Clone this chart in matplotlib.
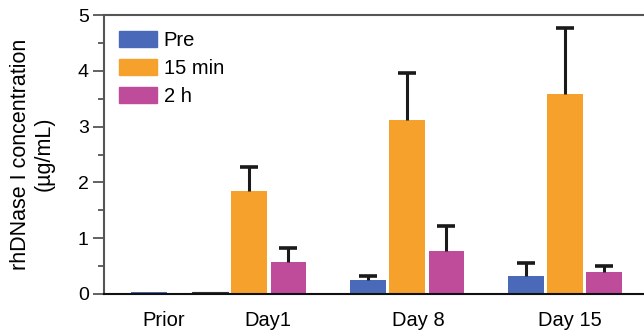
import matplotlib
matplotlib.use("Agg")
import matplotlib.pyplot as plt
from matplotlib.patches import Patch
from matplotlib.ticker import MultipleLocator

plt.rcParams['font.family'] = ['Liberation Sans', 'DejaVu Sans']

series = ["Pre", "15 min", "2 h"]
colors = ["#4A69B8", "#F7A12D", "#BE4C9B"]

# Prior sample (Pre only)
prior_value = 0.03
# Day groups
days = ["Day1", "Day 8", "Day 15"]
pre_vals = [0.03, 0.25, 0.32]
pre_err = [0.0, 0.07, 0.24]
min15_vals = [1.84, 3.12, 3.59]
min15_err = [0.44, 0.84, 1.18]
h2_vals = [0.57, 0.77, 0.39]
h2_err = [0.25, 0.44, 0.11]

tick_labels = ["Prior", "Day1", "Day 8", "Day 15"]

fig = plt.figure(figsize=(6.44, 3.33), dpi=100)
ax = fig.add_axes([104/644, 1-294/333, 1-104/644, (294-15)/333])

group_x = [1, 2, 3]
off = 0.247
w = 0.222
ecol = "#1a1a1a"

ax.bar(0.367, prior_value, width=w, color=colors[0])
for i, gx in enumerate(group_x):
    vals = [pre_vals[i], min15_vals[i], h2_vals[i]]
    errs = [pre_err[i], min15_err[i], h2_err[i]]
    for j in range(3):
        x = gx + (j - 1) * off
        if errs[j] > 0:
            ax.bar(x, vals[j], width=w, color=colors[j], zorder=2)
            ax.vlines(x, vals[j], vals[j] + errs[j], color=ecol, lw=2.2, zorder=3)
            ax.plot([x], [vals[j] + errs[j]], marker="_", markersize=13,
                    mew=2.6, color=ecol, zorder=3)
        else:
            ax.bar(x, vals[j], width=w, color=colors[j],
                   edgecolor="#333333", linewidth=0.8, zorder=2)

ax.set_xlim(0.082, 3.5)
ax.set_ylim(0, 5)
ax.set_xticks([0.462, 1.12, 2.07, 3.03])
ax.set_xticklabels(tick_labels, fontsize=14.5)
ax.tick_params(axis='x', length=0, pad=12)
ax.yaxis.set_major_locator(MultipleLocator(1))
ax.yaxis.set_minor_locator(MultipleLocator(0.5))
ax.tick_params(axis='y', which='major', length=8, width=1.3, color="#555555",
               labelsize=14, pad=3)
ax.tick_params(axis='y', which='minor', length=4, width=1.3, color="#555555")

ax.spines['right'].set_visible(False)
ax.spines['left'].set_color("#555555")
ax.spines['left'].set_linewidth(1.5)
ax.spines['top'].set_color("#555555")
ax.spines['top'].set_linewidth(1.5)
ax.spines['bottom'].set_color("#111111")
ax.spines['bottom'].set_linewidth(1.5)

ax.set_ylabel("rhDNase I concentration\n(µg/mL)", fontsize=15.5,
              linespacing=1.2)
ax.yaxis.set_label_coords(-0.091, 0.502)

handles = [Patch(color=c, label=s) for c, s in zip(colors, series)]
ax.legend(handles=handles, loc='upper left', bbox_to_anchor=(0.006, 0.985),
          frameon=False, fontsize=14.5, handlelength=1.85, handleheight=0.85,
          handletextpad=0.35, labelspacing=0.45, borderaxespad=0.2)

fig.savefig("out.png", dpi=100)
